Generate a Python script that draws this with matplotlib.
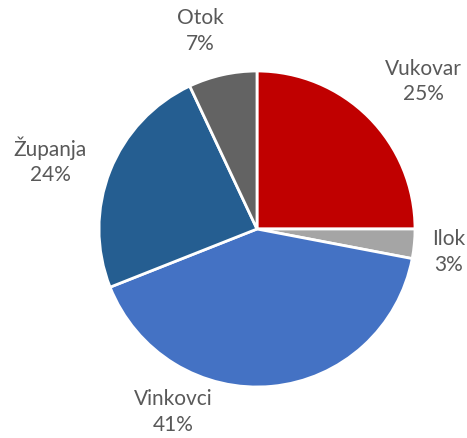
import matplotlib.pyplot as plt
import numpy as np

plt.rcParams['font.family'] = ['Lato', 'DejaVu Sans']

names = ['Vukovar', 'Ilok', 'Vinkovci', 'Županja', 'Otok']
shares = [25, 3, 41, 24, 7]
colors = ['#C00000', '#A5A5A5', '#4472C4', '#255E91', '#636363']
# distance of each label from the centre, in radii
label_dist = [1.41, 1.22, 1.27, 1.38, 1.31]
label_ang = [41.8, -6.5, -114.8, 161.5, 106.0]

fig = plt.figure(figsize=(4.67, 4.39), dpi=100)
ax = fig.add_axes([99 / 467, 51 / 439, 316 / 467, 316 / 439])
wedges, _ = ax.pie(shares, colors=colors, startangle=90, counterclock=False,
                   wedgeprops=dict(edgecolor='white', linewidth=2))
ax.set_xlim(-1, 1)
ax.set_ylim(-1, 1)
ax.axis('off')

for n, s, d, a in zip(names, shares, label_dist, label_ang):
    x = d * np.cos(np.radians(a))
    y = d * np.sin(np.radians(a))
    ax.text(x, y, f'{n}\n{s}%', ha='center', va='center', fontsize=15,
            color='#595959', linespacing=1.35, clip_on=False)

plt.savefig('out.png', dpi=100)
